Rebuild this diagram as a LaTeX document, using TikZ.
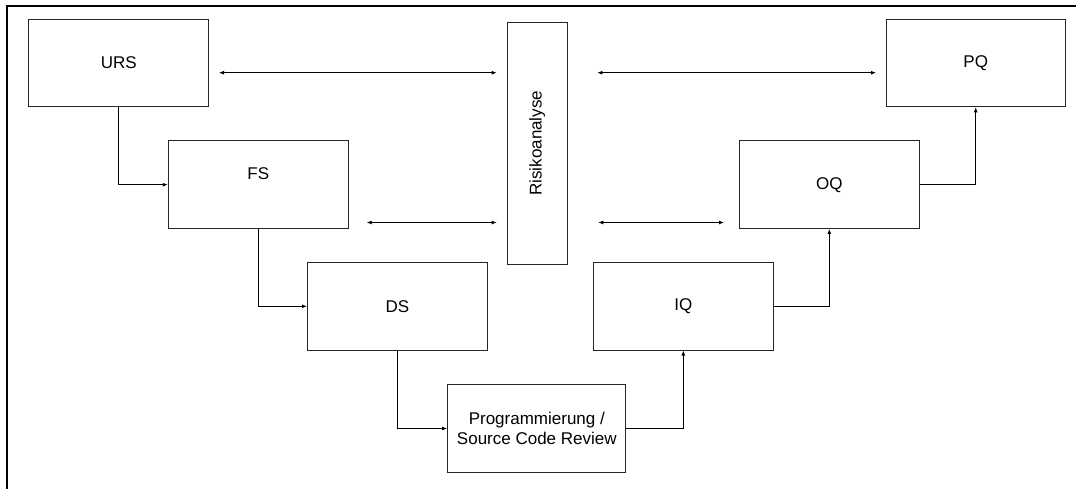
\documentclass[tikz,border=0pt]{standalone}
\usepackage{fontspec}
\setmainfont{Liberation Sans}
\usetikzlibrary{arrows.meta}

\tikzset{
  phase/.style={draw=black!85, line width=1pt, fill=white, minimum width=180pt,
    minimum height=87.5pt, inner sep=0pt, font=\fontsize{17}{19.5}\selectfont,
    align=center},
  riskbox/.style={draw=black!85, line width=1pt, minimum width=60pt,
    minimum height=242.3pt, inner sep=0pt},
  flow/.style={draw=black, line width=0.9pt, -{Latex[length=5pt,width=4pt]}},
  link/.style={draw=black, line width=0.9pt,
    {Latex[length=5pt,width=4pt]}-{Latex[length=5pt,width=4pt]}},
}

\begin{document}
\begin{tikzpicture}[x=1pt,y=-1pt]
  \useasboundingbox (0,0) rectangle (1076,488);

  % outer frame, running past the right and bottom edges
  \begin{scope}
    \clip (0,0) rectangle (1076,488);
    \draw[line width=2.4pt] (7,6) rectangle (1090,500);
  \end{scope}

  % left branch of the V
  \node[phase] (urs) at (118.7,63) {URS};
  \node[phase, text height=12.2pt, text depth=22pt] (fs) at (258.3,184.7) {FS};
  \node[phase] (ds) at (397.5,306.3) {DS};

  % bottom of the V
  \node[phase, minimum width=178.3pt, minimum height=88.4pt] (prog) at (536.8,428.5)
    {Programmierung /\\Source Code Review};

  % right branch of the V
  \node[phase] (iq) at (683.3,306.3) {IQ};
  \node[phase] (oq) at (829.3,184.7) {OQ};
  \node[phase, minimum width=179.3pt] (pq) at (975.7,63) {PQ};

  % risk analysis in the middle
  \node[riskbox] (risk) at (537.3,143.2) {};
  \node[rotate=90, font=\fontsize{17}{19.5}\selectfont] (risklabel) at (risk.center) {Risikoanalyse};

  % flow down and up the V
  \draw[flow] (urs.south) |- (fs.west);
  \draw[flow] (fs.south) |- (ds.west);
  \draw[flow] (ds.south) |- (prog.west);
  \draw[flow] (prog.east) -| (iq.south);
  \draw[flow] (iq.east) -| (oq.south);
  \draw[flow] (oq.east) -| (pq.south);

  % links to the risk analysis
  \coordinate (ursR)  at (219,72.7);
  \coordinate (riskUL) at (496.7,72.7);
  \coordinate (riskUR) at (597.3,72.7);
  \coordinate (pqL)   at (876,72.7);
  \coordinate (fsR)   at (366.7,222.5);
  \coordinate (riskLL) at (496.7,222.5);
  \coordinate (riskLR) at (598.3,222.5);
  \coordinate (oqL)   at (724,222.5);

  \draw[link] (ursR) -- (riskUL);
  \draw[link] (riskUR) -- (pqL);
  \draw[link] (fsR) -- (riskLL);
  \draw[link] (riskLR) -- (oqL);
\end{tikzpicture}
\end{document}
